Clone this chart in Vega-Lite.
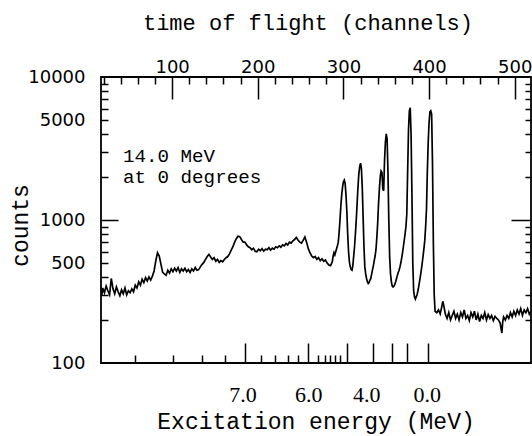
{
  "$schema": "https://vega.github.io/schema/vega-lite/v6.json",
  "width": 430,
  "height": 286,
  "autosize": {"type": "none"},
  "padding": {"left": 101, "top": 77, "right": 1, "bottom": 73},
  "background": "white",
  "config": {
    "view": {"stroke": "black", "strokeWidth": 1.8},
    "axis": {
      "domain": false,
      "grid": false,
      "tickColor": "black",
      "tickWidth": 1.5,
      "labelColor": "black",
      "titleColor": "black",
      "titleFontWeight": "normal"
    }
  },
  "datasets": {
    "spectrum": [
      {"channel": 18, "counts": 300}, {"channel": 19, "counts": 335}, {"channel": 21, "counts": 310}, {"channel": 23, "counts": 345},
      {"channel": 25, "counts": 320}, {"channel": 27, "counts": 300}, {"channel": 29, "counts": 390}, {"channel": 31, "counts": 330},
      {"channel": 33, "counts": 305}, {"channel": 35, "counts": 340}, {"channel": 37, "counts": 315}, {"channel": 39, "counts": 295},
      {"channel": 41, "counts": 325}, {"channel": 43, "counts": 305}, {"channel": 45, "counts": 335}, {"channel": 47, "counts": 300},
      {"channel": 49, "counts": 320}, {"channel": 51, "counts": 310}, {"channel": 53, "counts": 330}, {"channel": 55, "counts": 315},
      {"channel": 57, "counts": 350}, {"channel": 59, "counts": 335}, {"channel": 61, "counts": 370}, {"channel": 63, "counts": 350},
      {"channel": 65, "counts": 385}, {"channel": 67, "counts": 365}, {"channel": 69, "counts": 395}, {"channel": 71, "counts": 375},
      {"channel": 73, "counts": 400}, {"channel": 75, "counts": 380}, {"channel": 77, "counts": 405}, {"channel": 79, "counts": 440},
      {"channel": 81, "counts": 520}, {"channel": 83, "counts": 590}, {"channel": 85, "counts": 560}, {"channel": 87, "counts": 490},
      {"channel": 89, "counts": 430}, {"channel": 91, "counts": 420}, {"channel": 93, "counts": 410}, {"channel": 95, "counts": 445},
      {"channel": 97, "counts": 425}, {"channel": 99, "counts": 455}, {"channel": 101, "counts": 435}, {"channel": 103, "counts": 460},
      {"channel": 105, "counts": 440}, {"channel": 107, "counts": 465}, {"channel": 109, "counts": 430}, {"channel": 111, "counts": 455},
      {"channel": 113, "counts": 440}, {"channel": 115, "counts": 460}, {"channel": 117, "counts": 435}, {"channel": 119, "counts": 450},
      {"channel": 121, "counts": 430}, {"channel": 123, "counts": 455}, {"channel": 125, "counts": 440}, {"channel": 127, "counts": 465},
      {"channel": 129, "counts": 445}, {"channel": 131, "counts": 450}, {"channel": 133, "counts": 470}, {"channel": 135, "counts": 490},
      {"channel": 137, "counts": 505}, {"channel": 139, "counts": 530}, {"channel": 141, "counts": 555}, {"channel": 143, "counts": 575},
      {"channel": 145, "counts": 550}, {"channel": 147, "counts": 530}, {"channel": 149, "counts": 545}, {"channel": 151, "counts": 515},
      {"channel": 153, "counts": 530}, {"channel": 155, "counts": 505}, {"channel": 157, "counts": 520}, {"channel": 159, "counts": 510},
      {"channel": 161, "counts": 530}, {"channel": 163, "counts": 545}, {"channel": 165, "counts": 555}, {"channel": 167, "counts": 580},
      {"channel": 169, "counts": 615}, {"channel": 171, "counts": 650}, {"channel": 173, "counts": 700}, {"channel": 175, "counts": 740},
      {"channel": 177, "counts": 770}, {"channel": 179, "counts": 765}, {"channel": 181, "counts": 730}, {"channel": 183, "counts": 700},
      {"channel": 185, "counts": 700}, {"channel": 187, "counts": 670}, {"channel": 189, "counts": 650}, {"channel": 191, "counts": 640},
      {"channel": 193, "counts": 620}, {"channel": 195, "counts": 635}, {"channel": 197, "counts": 605}, {"channel": 199, "counts": 600},
      {"channel": 201, "counts": 625}, {"channel": 203, "counts": 610}, {"channel": 205, "counts": 630}, {"channel": 207, "counts": 605},
      {"channel": 209, "counts": 625}, {"channel": 211, "counts": 620}, {"channel": 213, "counts": 640}, {"channel": 215, "counts": 615},
      {"channel": 217, "counts": 635}, {"channel": 219, "counts": 625}, {"channel": 221, "counts": 650}, {"channel": 223, "counts": 640},
      {"channel": 225, "counts": 660}, {"channel": 227, "counts": 645}, {"channel": 229, "counts": 670}, {"channel": 231, "counts": 660},
      {"channel": 233, "counts": 685}, {"channel": 235, "counts": 670}, {"channel": 237, "counts": 700}, {"channel": 239, "counts": 690},
      {"channel": 241, "counts": 715}, {"channel": 243, "counts": 730}, {"channel": 245, "counts": 755}, {"channel": 247, "counts": 725},
      {"channel": 249, "counts": 700}, {"channel": 251, "counts": 690}, {"channel": 253, "counts": 720}, {"channel": 255, "counts": 760},
      {"channel": 257, "counts": 700}, {"channel": 259, "counts": 630}, {"channel": 261, "counts": 590}, {"channel": 263, "counts": 560},
      {"channel": 265, "counts": 545}, {"channel": 267, "counts": 555}, {"channel": 269, "counts": 530}, {"channel": 271, "counts": 545},
      {"channel": 273, "counts": 520}, {"channel": 275, "counts": 535}, {"channel": 277, "counts": 515}, {"channel": 279, "counts": 525},
      {"channel": 281, "counts": 500}, {"channel": 283, "counts": 485}, {"channel": 285, "counts": 480}, {"channel": 287, "counts": 510},
      {"channel": 288, "counts": 560}, {"channel": 289, "counts": 590}, {"channel": 290, "counts": 570}, {"channel": 291, "counts": 600},
      {"channel": 292, "counts": 630}, {"channel": 293, "counts": 660}, {"channel": 294, "counts": 700}, {"channel": 295, "counts": 820},
      {"channel": 296, "counts": 1000}, {"channel": 297, "counts": 1250}, {"channel": 298, "counts": 1500}, {"channel": 299, "counts": 1700},
      {"channel": 300, "counts": 1850}, {"channel": 301, "counts": 1900}, {"channel": 302, "counts": 1800}, {"channel": 303, "counts": 1500},
      {"channel": 304, "counts": 1150}, {"channel": 305, "counts": 800}, {"channel": 306, "counts": 600}, {"channel": 307, "counts": 510},
      {"channel": 308, "counts": 470}, {"channel": 309, "counts": 450}, {"channel": 310, "counts": 445}, {"channel": 311, "counts": 480},
      {"channel": 312, "counts": 560}, {"channel": 313, "counts": 650}, {"channel": 314, "counts": 800}, {"channel": 315, "counts": 1000},
      {"channel": 316, "counts": 1300}, {"channel": 317, "counts": 1700}, {"channel": 318, "counts": 2100}, {"channel": 319, "counts": 2350},
      {"channel": 320, "counts": 2500}, {"channel": 321, "counts": 2300}, {"channel": 322, "counts": 1700}, {"channel": 323, "counts": 1050},
      {"channel": 324, "counts": 650}, {"channel": 325, "counts": 470}, {"channel": 326, "counts": 420}, {"channel": 327, "counts": 390},
      {"channel": 328, "counts": 370}, {"channel": 329, "counts": 360}, {"channel": 330, "counts": 365}, {"channel": 331, "counts": 380},
      {"channel": 332, "counts": 390}, {"channel": 333, "counts": 420}, {"channel": 334, "counts": 450}, {"channel": 335, "counts": 480},
      {"channel": 336, "counts": 520}, {"channel": 337, "counts": 560}, {"channel": 338, "counts": 620}, {"channel": 339, "counts": 750},
      {"channel": 340, "counts": 950}, {"channel": 341, "counts": 1300}, {"channel": 342, "counts": 1650}, {"channel": 343, "counts": 2000},
      {"channel": 344, "counts": 2200}, {"channel": 345, "counts": 2150}, {"channel": 346, "counts": 1650}, {"channel": 347, "counts": 1600},
      {"channel": 348, "counts": 2600}, {"channel": 349, "counts": 3500}, {"channel": 350, "counts": 4000}, {"channel": 351, "counts": 3700},
      {"channel": 352, "counts": 2200}, {"channel": 353, "counts": 1000}, {"channel": 354, "counts": 550}, {"channel": 355, "counts": 420},
      {"channel": 356, "counts": 370}, {"channel": 357, "counts": 345}, {"channel": 358, "counts": 340}, {"channel": 359, "counts": 345},
      {"channel": 360, "counts": 355}, {"channel": 361, "counts": 370}, {"channel": 362, "counts": 390}, {"channel": 363, "counts": 410},
      {"channel": 364, "counts": 430}, {"channel": 365, "counts": 445}, {"channel": 366, "counts": 470}, {"channel": 367, "counts": 500},
      {"channel": 368, "counts": 540}, {"channel": 369, "counts": 590}, {"channel": 370, "counts": 650}, {"channel": 371, "counts": 720},
      {"channel": 372, "counts": 800}, {"channel": 373, "counts": 900}, {"channel": 374, "counts": 1100}, {"channel": 375, "counts": 2200},
      {"channel": 376, "counts": 4300}, {"channel": 377, "counts": 5800}, {"channel": 378, "counts": 6100}, {"channel": 379, "counts": 4000},
      {"channel": 380, "counts": 1500}, {"channel": 381, "counts": 500}, {"channel": 382, "counts": 320}, {"channel": 383, "counts": 290},
      {"channel": 384, "counts": 280}, {"channel": 385, "counts": 290}, {"channel": 386, "counts": 300}, {"channel": 387, "counts": 320},
      {"channel": 388, "counts": 345}, {"channel": 389, "counts": 375}, {"channel": 390, "counts": 410}, {"channel": 391, "counts": 450},
      {"channel": 392, "counts": 500}, {"channel": 393, "counts": 560}, {"channel": 394, "counts": 630}, {"channel": 395, "counts": 720},
      {"channel": 396, "counts": 900}, {"channel": 397, "counts": 1200}, {"channel": 398, "counts": 2200}, {"channel": 399, "counts": 3500},
      {"channel": 400, "counts": 4800}, {"channel": 401, "counts": 5700}, {"channel": 402, "counts": 5800}, {"channel": 403, "counts": 5500},
      {"channel": 404, "counts": 2500}, {"channel": 405, "counts": 700}, {"channel": 406, "counts": 300}, {"channel": 407, "counts": 230},
      {"channel": 409, "counts": 225}, {"channel": 411, "counts": 235}, {"channel": 413, "counts": 220}, {"channel": 415, "counts": 250},
      {"channel": 416, "counts": 270}, {"channel": 417, "counts": 255}, {"channel": 419, "counts": 220}, {"channel": 421, "counts": 205},
      {"channel": 423, "counts": 225}, {"channel": 425, "counts": 200}, {"channel": 427, "counts": 215}, {"channel": 429, "counts": 230},
      {"channel": 431, "counts": 205}, {"channel": 433, "counts": 220}, {"channel": 435, "counts": 200}, {"channel": 437, "counts": 225},
      {"channel": 439, "counts": 210}, {"channel": 441, "counts": 235}, {"channel": 443, "counts": 205}, {"channel": 445, "counts": 215},
      {"channel": 447, "counts": 198}, {"channel": 449, "counts": 225}, {"channel": 451, "counts": 210}, {"channel": 453, "counts": 230},
      {"channel": 455, "counts": 200}, {"channel": 457, "counts": 220}, {"channel": 459, "counts": 195}, {"channel": 461, "counts": 215},
      {"channel": 463, "counts": 205}, {"channel": 465, "counts": 225}, {"channel": 467, "counts": 200}, {"channel": 469, "counts": 218},
      {"channel": 471, "counts": 205}, {"channel": 473, "counts": 215}, {"channel": 475, "counts": 198}, {"channel": 477, "counts": 212},
      {"channel": 479, "counts": 205}, {"channel": 481, "counts": 200}, {"channel": 483, "counts": 190}, {"channel": 485, "counts": 162},
      {"channel": 486, "counts": 195}, {"channel": 487, "counts": 210}, {"channel": 489, "counts": 200}, {"channel": 491, "counts": 215},
      {"channel": 493, "counts": 205}, {"channel": 495, "counts": 225}, {"channel": 497, "counts": 210}, {"channel": 499, "counts": 230},
      {"channel": 501, "counts": 215}, {"channel": 503, "counts": 235}, {"channel": 505, "counts": 220}, {"channel": 507, "counts": 240},
      {"channel": 509, "counts": 215}, {"channel": 511, "counts": 235}, {"channel": 513, "counts": 225}, {"channel": 515, "counts": 240},
      {"channel": 517, "counts": 220}, {"channel": 518, "counts": 228}
    ],
    "note": [
      {"channel": 42.7, "counts": 2557, "label": "14.0 MeV"},
      {"channel": 42.7, "counts": 1806, "label": "at 0 degrees"}
    ]
  },
  "layer": [
    {
      "data": {"name": "spectrum"},
      "mark": {"type": "line", "color": "black", "strokeWidth": 1.7},
      "encoding": {
        "x": {
          "field": "channel", "type": "quantitative",
          "scale": {"domain": [17, 519], "nice": false, "zero": false},
          "axis": {
            "orient": "top", "values": [100, 200, 300, 400, 500], "ticks": false,
            "labelPadding": 5, "labelBaseline": "alphabetic", "labelFont": "DejaVu Sans", "labelFontSize": 18,
            "labelFlush": false, "labelOverlap": false, "format": "d",
            "title": "time of flight (channels)", "titleFont": "Liberation Mono", "titleFontSize": 22,
            "titleX": 206.5, "titleY": -48, "titleAlign": "center", "titleBaseline": "alphabetic"
          }
        },
        "y": {
          "field": "counts", "type": "quantitative",
          "scale": {"type": "log", "domain": [100, 10000], "nice": false},
          "axis": {
            "orient": "left", "values": [100, 500, 1000, 5000, 10000], "ticks": false,
            "labelPadding": 16, "labelFont": "DejaVu Sans", "labelFontSize": 18, "format": "d",
            "labelFlush": false, "labelOverlap": false,
            "title": "counts", "titleFont": "Liberation Mono", "titleFontSize": 23,
            "titleX": -74, "titleY": 148, "titleAngle": -90, "titleAlign": "center", "titleBaseline": "alphabetic"
          }
        }
      }
    },
    {
      "data": {"name": "note"},
      "mark": {"type": "text", "align": "left", "baseline": "alphabetic", "font": "Liberation Mono", "fontSize": 19.2, "color": "black"},
      "encoding": {
        "x": {
          "field": "channel", "type": "quantitative",
          "scale": {"domain": [17, 519], "nice": false, "zero": false},
          "axis": {"orient": "top", "values": [100, 200, 300, 400, 500], "labels": false, "tickSize": 22, "offset": -22, "title": null}
        },
        "y": {
          "field": "counts", "type": "quantitative",
          "scale": {"type": "log", "domain": [100, 10000], "nice": false},
          "axis": {"orient": "left", "values": [1000], "labels": false, "tickSize": 17, "offset": -17, "title": null}
        },
        "text": {"field": "label", "type": "nominal"}
      }
    },
    {
      "data": {"name": "note"},
      "mark": {"type": "point", "opacity": 0},
      "encoding": {
        "x": {
          "field": "channel", "type": "quantitative",
          "scale": {"domain": [17, 519], "nice": false, "zero": false},
          "axis": {
            "orient": "top",
            "values": [20, 40, 60, 80, 120, 140, 160, 180, 220, 240, 260, 280, 320, 340, 360, 380, 420, 440, 460, 480],
            "labels": false, "tickSize": 7, "offset": -7, "title": null
          }
        },
        "y": {
          "field": "counts", "type": "quantitative",
          "scale": {"type": "log", "domain": [100, 10000], "nice": false},
          "axis": {
            "orient": "left",
            "values": [200, 300, 400, 500, 600, 700, 800, 900, 2000, 3000, 4000, 5000, 6000, 7000, 8000, 9000],
            "labels": false, "tickSize": 7, "offset": -7, "title": null
          }
        }
      }
    },
    {
      "data": {"name": "note"},
      "mark": {"type": "point", "opacity": 0},
      "encoding": {
        "x": {
          "field": "channel", "type": "quantitative",
          "scale": {"domain": [17, 519], "nice": false, "zero": false},
          "axis": {
            "orient": "bottom", "values": [185.1, 258.6, 304.2, 334.5, 356.7, 374.2, 398.7],
            "labels": false, "tickSize": 20, "offset": -20, "title": null
          }
        },
        "y": {
          "field": "counts", "type": "quantitative",
          "scale": {"type": "log", "domain": [100, 10000], "nice": false},
          "axis": {"orient": "right", "values": [1000], "labels": false, "tickSize": 20, "offset": -20, "title": null}
        }
      }
    },
    {
      "data": {"name": "note"},
      "mark": {"type": "point", "opacity": 0},
      "encoding": {
        "x": {
          "field": "channel", "type": "quantitative",
          "scale": {"domain": [17, 519], "nice": false, "zero": false},
          "axis": {
            "orient": "bottom",
            "values": [56.7, 101.1, 134.9, 161.8, 203.8, 220.1, 235.3, 247.0, 270.4, 278.5, 284.3, 290.2, 296.0],
            "labels": false, "tickSize": 8, "offset": -8, "title": null
          }
        },
        "y": {
          "field": "counts", "type": "quantitative",
          "scale": {"type": "log", "domain": [100, 10000], "nice": false},
          "axis": {
            "orient": "right",
            "values": [200, 300, 400, 500, 600, 700, 800, 900, 2000, 3000, 4000, 5000, 6000, 7000, 8000, 9000],
            "labels": false, "tickSize": 6, "offset": -6, "title": null
          }
        }
      }
    },
    {
      "data": {"name": "note"},
      "mark": {"type": "point", "opacity": 0},
      "encoding": {
        "x": {
          "field": "channel", "type": "quantitative",
          "scale": {"domain": [17, 519], "nice": false, "zero": false},
          "axis": {
            "orient": "bottom", "values": [182.2, 259.0, 326.8, 397.2], "ticks": false,
            "labelPadding": 38, "labelBaseline": "alphabetic", "labelFont": "Liberation Serif", "labelFontSize": 22,
            "labelFlush": false, "labelOverlap": false,
            "labelExpr": "datum.value < 200 ? '7.0' : datum.value < 300 ? '6.0' : datum.value < 360 ? '4.0' : '0.0'",
            "title": "Excitation energy (MeV)", "titleFont": "Liberation Mono", "titleFontSize": 23,
            "titleX": 214.5, "titleY": 65, "titleAlign": "center", "titleBaseline": "alphabetic"
          }
        },
        "y": {
          "field": "counts", "type": "quantitative",
          "scale": {"type": "log", "domain": [100, 10000], "nice": false},
          "axis": null
        }
      }
    }
  ],
  "resolve": {"axis": {"x": "independent", "y": "independent"}}
}
